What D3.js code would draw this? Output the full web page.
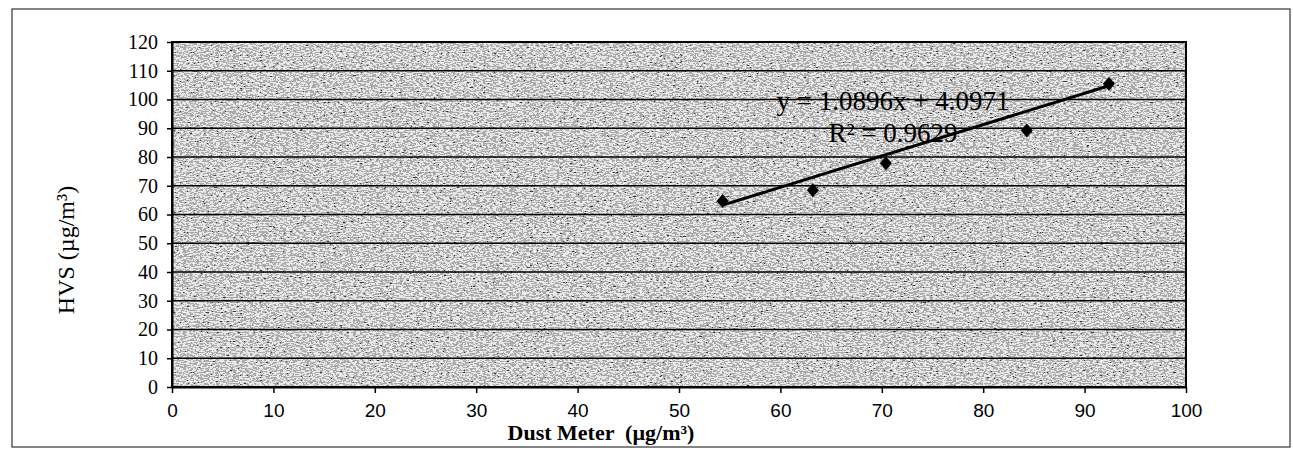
<!DOCTYPE html>
<html><head><meta charset="utf-8">
<script src="https://cdn.jsdelivr.net/npm/d3@7"></script>
<style>html,body{margin:0;padding:0;background:#fff;}svg{display:block;}</style>
</head><body>
<svg id="c" width="1293" height="450"></svg>
<script>
// Data
const dustMeter = [54.3, 63.2, 70.4, 84.3, 92.4];
const hvs = [64.7, 68.4, 77.8, 89.2, 105.5];
const trendSlope = 1.0896, trendIntercept = 4.0971;
const xTicks = [0,10,20,30,40,50,60,70,80,90,100];
const yTicks = [0,10,20,30,40,50,60,70,80,90,100,110,120];
const eqText = "y = 1.0896x + 4.0971";
const r2Text = "R² = 0.9629";
const xTitle = "Dust Meter  (µg/m³)";
const yTitle = "HVS (µg/m³)";

const svg = d3.select("#c");
const L=172, R=1186, T=42, B=387;
const x = d3.scaleLinear().domain([0,100]).range([L,R]);
const y = d3.scaleLinear().domain([0,120]).range([B,T]);

// outer frame
svg.append("rect").attr("x",12).attr("y",9).attr("width",1278).attr("height",438)
  .attr("fill","none").attr("stroke","#333").attr("stroke-width",1.2);

// texture filter
const defs = svg.append("defs");
const f = defs.append("filter").attr("id","noise").attr("x",0).attr("y",0).attr("width","100%").attr("height","100%");
f.append("feTurbulence").attr("type","fractalNoise").attr("baseFrequency","0.3 0.8").attr("numOctaves",2).attr("seed",7).attr("result","t");
f.append("feColorMatrix").attr("type","matrix").attr("values","1 0 0 0 0  1 0 0 0 0  1 0 0 0 0  0 0 0 0 1");
const ct = f.append("feComponentTransfer");
["R","G","B"].forEach(c=>ct.append("feFunc"+c).attr("type","discrete").attr("tableValues","0.05 0.4 0.8 1"));

svg.append("rect").attr("x",L).attr("y",T).attr("width",R-L).attr("height",B-T)
  .attr("fill","#999").attr("filter","url(#noise)");

// gridlines
svg.append("g").selectAll("line").data(yTicks.filter(v=>v>0&&v<120)).join("line")
  .attr("x1",L).attr("x2",R).attr("y1",d=>y(d)).attr("y2",d=>y(d))
  .attr("stroke","#000").attr("stroke-width",1.6);

// plot border
svg.append("rect").attr("x",L).attr("y",T).attr("width",R-L).attr("height",B-T)
  .attr("fill","none").attr("stroke","#000").attr("stroke-width",2);

// axes
const ya = svg.append("g").attr("transform",`translate(${L},0)`)
  .call(d3.axisLeft(y).tickValues(yTicks).tickSize(5).tickSizeOuter(0).tickPadding(9));
ya.select(".domain").attr("stroke","#000").attr("stroke-width",2);
ya.selectAll("line").attr("stroke","#000").attr("stroke-width",1.5);
ya.selectAll("text").attr("font-family","'Liberation Serif', serif").attr("font-size",20).attr("fill","#000");

const xa = svg.append("g").attr("transform",`translate(0,${B})`)
  .call(d3.axisBottom(x).tickValues(xTicks).tickSize(6).tickSizeOuter(0).tickPadding(11));
xa.select(".domain").attr("stroke","#000").attr("stroke-width",2);
xa.selectAll("line").attr("stroke","#000").attr("stroke-width",1.5);
xa.selectAll("text").attr("font-family","'Liberation Sans', Arial, sans-serif").attr("font-size",19).attr("fill","#000");

// trendline
const x0 = d3.min(dustMeter), x1 = d3.max(dustMeter);
svg.append("line").attr("x1",x(x0)).attr("y1",y(trendSlope*x0+trendIntercept))
  .attr("x2",x(x1)).attr("y2",y(trendSlope*x1+trendIntercept))
  .attr("stroke","#000").attr("stroke-width",3);

// points
svg.append("g").selectAll("path").data(dustMeter.map((d,i)=>[d,hvs[i]])).join("path")
  .attr("d","M0,-7L6,0L0,7L-6,0Z")
  .attr("transform",d=>`translate(${x(d[0])},${y(d[1])})`)
  .attr("fill","#000");

// equation text
const eq = svg.append("g").attr("font-family","'Liberation Serif', serif").attr("font-size",27).attr("fill","#000").attr("text-anchor","middle");
eq.append("text").attr("x",893).attr("y",110).text(eqText);
eq.append("text").attr("x",893).attr("y",142).text(r2Text);

// titles
svg.append("text").attr("x",601).attr("y",440).attr("text-anchor","middle")
  .attr("font-family","'Liberation Serif', serif").attr("font-weight","bold").attr("font-size",22)
  .style("white-space","pre")
  .text(xTitle);
svg.append("text").attr("transform","translate(74,250) rotate(-90)").attr("text-anchor","middle")
  .attr("font-family","'Liberation Serif', serif").attr("font-size",24)
  .text(yTitle);
</script>
</body></html>
